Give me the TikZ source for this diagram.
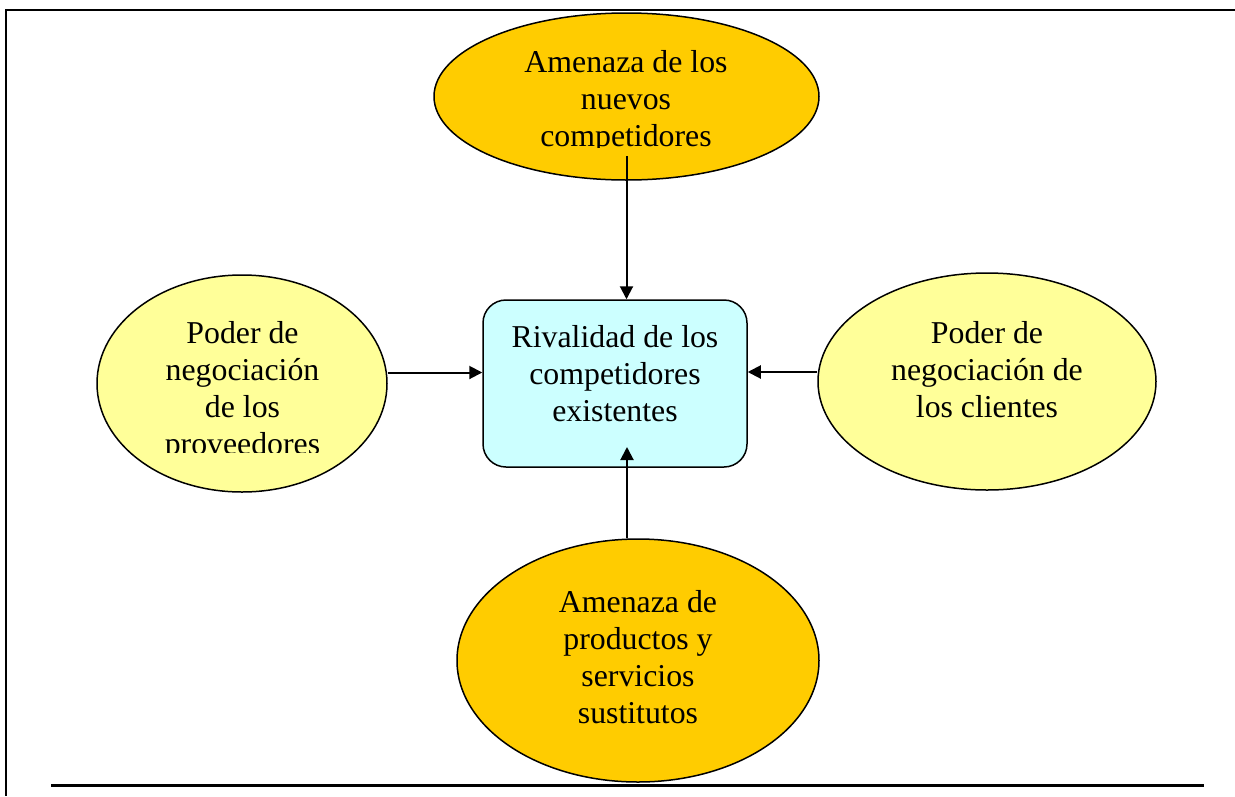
\documentclass[tikz,border=0pt]{standalone}
\usepackage{fontspec}
\setmainfont{Liberation Serif}
\usetikzlibrary{shapes.geometric,arrows.meta}
\definecolor{orangeF}{HTML}{FFCC00}
\definecolor{yellowF}{HTML}{FFFF99}
\definecolor{cyanF}{HTML}{CCFFFF}
\newcommand\mylines[1]{\begin{tabular}[t]{@{}c@{}}#1\end{tabular}}
\begin{document}
\begin{tikzpicture}[x=1pt,y=-1pt,
  oval/.style={ellipse,draw,line width=1.5pt,inner sep=0pt},
  lbl/.style={anchor=base,inner sep=0pt,font=\fontsize{31.8}{37}\selectfont},
  arr/.style={line width=2pt,-{Triangle[length=13pt,width=13pt]}},
  frameline/.style={line width=2pt}]
\useasboundingbox (0,0) rectangle (1235,796);
% frame lines
\draw[frameline] (6,10) -- (1235,10);
\draw[frameline] (6,9) -- (6,796);
\draw[line width=3pt] (51,785) -- (1204,785);
% shapes
\node[oval,fill=orangeF,minimum width=385pt,minimum height=167pt] (eTop) at (626.5,96.5) {};
\node[oval,fill=yellowF,minimum width=290pt,minimum height=217pt] (eLeft) at (242,383.5) {};
\node[oval,fill=yellowF,minimum width=338pt,minimum height=217pt] (eRight) at (987,381.5) {};
\node[oval,fill=orangeF,minimum width=362pt,minimum height=243pt] (eBot) at (638,660.5) {};
\node[draw,fill=cyanF,line width=1.5pt,rounded corners=23pt,minimum width=264pt,minimum height=167pt] (box) at (615,383.5) {};
% texts
\begin{scope}
\clip (400,0) rectangle (850,147.5);
\node[lbl] (tTop) at (626,72) {\mylines{Amenaza de los\\nuevos\\competidores}};
\end{scope}
\begin{scope}
\clip (90,260) rectangle (400,452.5);
\node[lbl] (tLeft) at (242.5,343) {\mylines{Poder de\\negociación\\de los\\proveedores}};
\end{scope}
\node[lbl] (tRight) at (987,343) {\mylines{Poder de\\negociación de\\los clientes}};
\node[lbl] (tBot) at (638,612) {\mylines{Amenaza de\\productos y\\servicios\\sustitutos}};
\node[lbl] (tBox) at (615,347) {\mylines{Rivalidad de los\\competidores\\existentes}};
% connectors
\coordinate (bT) at (627,447);
\draw[arr] ([yshift=25pt]eTop.south) -- (eTop.south |- box.north);
\draw[arr] (eBot.north -| bT) -- (bT);
\draw[arr] ([yshift=11pt]eLeft.east) -- ([yshift=11pt]eLeft.east -| box.west);
\draw[arr] ([yshift=9.5pt]eRight.west) -- ([yshift=9.5pt]eRight.west -| box.east);
\end{tikzpicture}
\end{document}
